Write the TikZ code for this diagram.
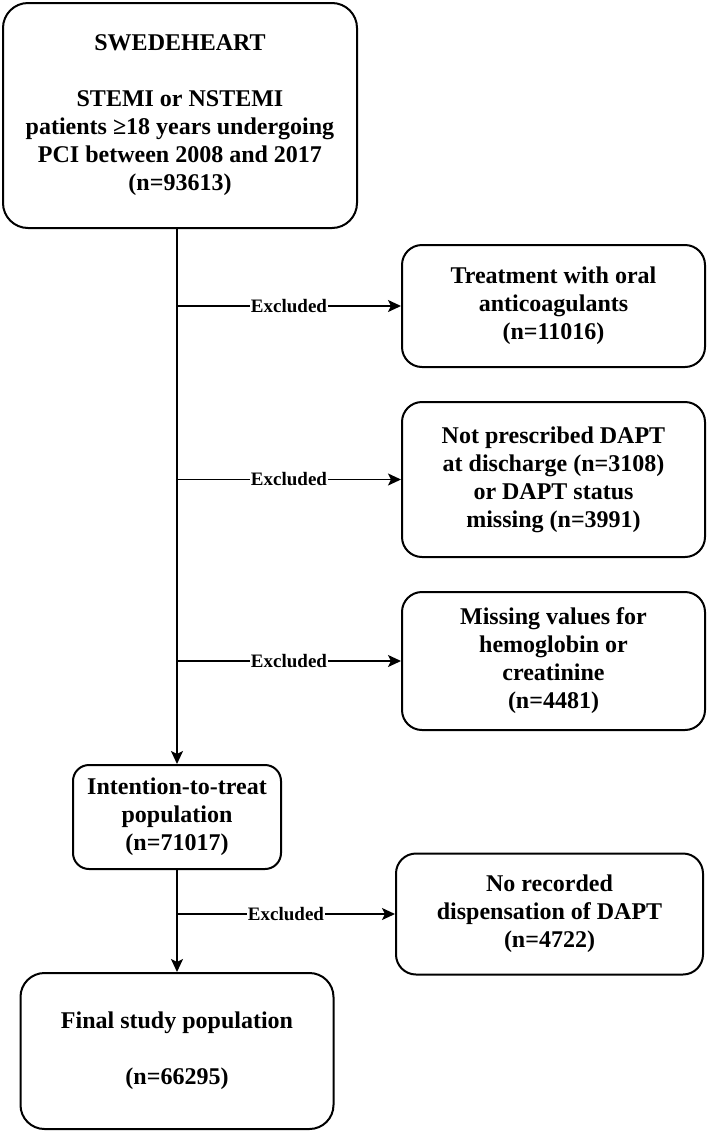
\documentclass[tikz,border=0pt]{standalone}
\usepackage{fontspec}
\setmainfont{Liberation Serif}
\usetikzlibrary{arrows.meta}
\begin{document}
\begin{tikzpicture}[x=1pt,y=-1pt,
 box/.style={draw, line width=2pt, rounded corners=#1, align=center, inner sep=0pt,
   font=\fontsize{24}{28}\selectfont\bfseries},
 box/.default=20pt,
 conn/.style={line width=1.8pt, -{Stealth[length=13pt,width=12pt,inset=3pt]}},
 lbl/.style={fill=white, inner sep=1pt, font=\fontsize{19}{21}\selectfont\bfseries}]
\useasboundingbox (0,0) rectangle (709,1133);

\node[box=25pt, minimum width=354pt, minimum height=225pt] (src) at (180,115.5)
  {SWEDEHEART\\[28pt]STEMI or NSTEMI\\patients ≥18 years undergoing\\PCI between 2008 and 2017\\(n=93613)};
\node[box=20pt, minimum width=303pt, minimum height=122pt] (e1) at (553.5,306)
  {Treatment with oral\\anticoagulants\\(n=11016)};
\node[box=20pt, minimum width=303pt, minimum height=155pt] (e2) at (553.5,479.5)
  {Not prescribed DAPT\\at discharge (n=3108)\\or DAPT status\\missing (n=3991)};
\node[box=20pt, minimum width=303pt, minimum height=138pt] (e3) at (553.5,661)
  {Missing values for\\hemoglobin or\\creatinine\\(n=4481)};
\node[box=16pt, minimum width=208pt, minimum height=104pt] (itt) at (177,817)
  {Intention-to-treat\\population\\(n=71017)};
\node[box=20pt, minimum width=307pt, minimum height=121pt] (e4) at (549.5,914)
  {No recorded\\dispensation of DAPT\\(n=4722)};
\node[box=24pt, minimum width=313pt, minimum height=156pt] (fin) at (177,1051)
  {Final study population\\[28pt](n=66295)};

\draw[conn] (src.south -| itt.north) -- (itt.north);
\draw[conn] (itt.north |- e1.west) -- node[lbl] {Excluded} (e1.west);
\draw[conn] (itt.north |- e2.west) -- node[lbl] {Excluded} (e2.west);
\draw[conn] (itt.north |- e3.west) -- node[lbl] {Excluded} (e3.west);
\draw[conn] (itt.south) -- (fin.north);
\draw[conn] (itt.south |- e4.west) -- node[lbl] {Excluded} (e4.west);
\end{tikzpicture}
\end{document}
